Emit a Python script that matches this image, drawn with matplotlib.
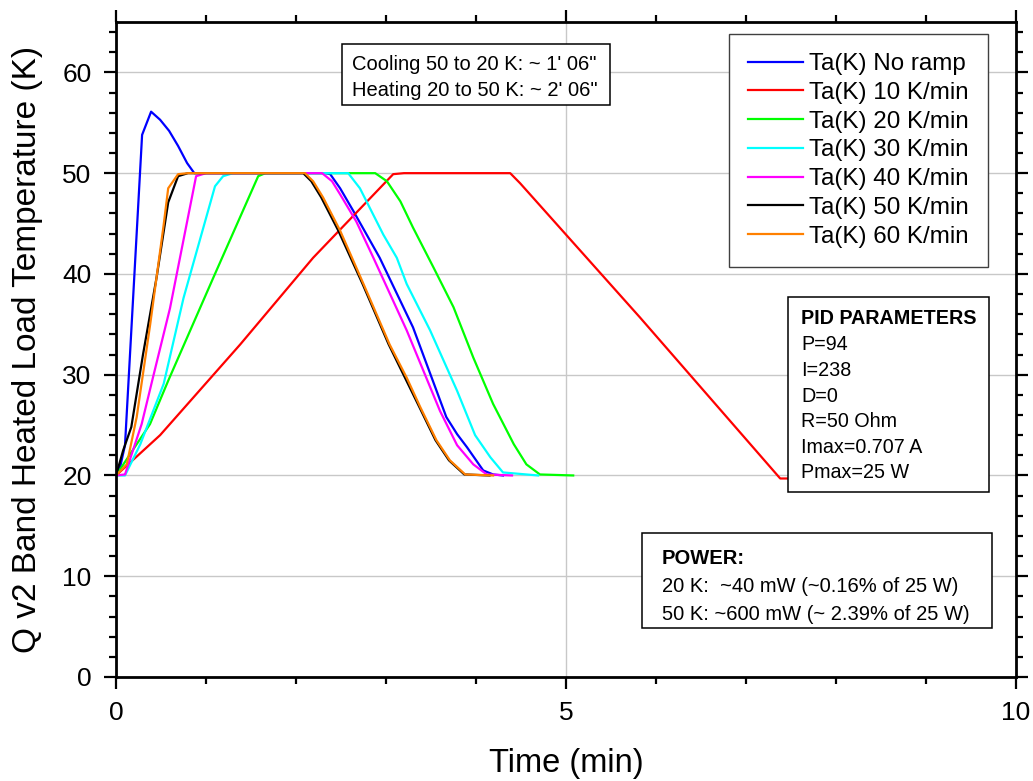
import matplotlib
matplotlib.use("Agg")
import matplotlib.pyplot as plt
from matplotlib.ticker import MultipleLocator
from matplotlib.patches import Rectangle

plt.rcParams['font.family'] = ['Liberation Sans', 'DejaVu Sans']

# ---- data (time in min, temperature in K) ----
t_noramp = [0, 0.05, 0.1, 0.29, 0.39, 0.49, 0.59, 0.69, 0.79, 0.87, 1.0, 2.33, 2.38, 2.49, 2.64, 2.93, 3.30, 3.67, 3.79, 3.90, 4.08, 4.19, 4.30]
T_noramp = [20, 21.0, 23.0, 53.8, 56.1, 55.3, 54.2, 52.7, 51.0, 50.0, 50.0, 50.0, 49.9, 48.5, 46.2, 41.6, 34.7, 25.8, 24.1, 22.8, 20.5, 20.1, 20.0]

t_10 = [0, 0.49, 1.38, 2.19, 3.08, 3.2, 4.38, 4.49, 4.60, 5.82, 7.38, 7.60]
T_10 = [20, 24.0, 33.0, 41.6, 49.9, 50.0, 50.0, 49.0, 47.9, 35.7, 19.7, 19.7]

t_20 = [0, 0.156, 0.378, 0.58, 1.08, 1.58, 1.66, 2.88, 3.01, 3.16, 3.30, 3.53, 3.75, 3.97, 4.19, 4.42, 4.56, 4.71, 5.08]
T_20 = [20, 22.1, 25.1, 29.4, 39.6, 49.7, 50.0, 50.0, 49.2, 47.2, 44.6, 40.6, 36.7, 31.7, 27.1, 23.1, 21.1, 20.1, 20.0]

t_30 = [0, 0.1, 0.27, 0.53, 0.75, 1.10, 1.19, 1.30, 2.58, 2.71, 2.97, 3.12, 3.23, 3.49, 3.79, 3.99, 4.16, 4.30, 4.69]
T_30 = [20, 20.0, 23.1, 29.1, 37.6, 48.7, 49.7, 50.0, 50.0, 48.5, 43.9, 41.6, 39.0, 34.4, 28.4, 24.0, 21.8, 20.3, 20.0]

t_40 = [0, 0.1, 0.285, 0.41, 0.60, 0.89, 1.0, 2.29, 2.40, 2.49, 2.67, 2.86, 3.23, 3.60, 3.79, 3.97, 4.12, 4.40]
T_40 = [20, 20.1, 25.1, 29.7, 36.6, 49.7, 50.0, 50.0, 49.2, 47.9, 45.2, 41.6, 34.4, 26.4, 23.0, 21.1, 20.1, 20.0]

t_50 = [0, 0.08, 0.17, 0.30, 0.45, 0.58, 0.69, 0.80, 2.08, 2.17, 2.28, 2.47, 2.74, 3.03, 3.37, 3.55, 3.70, 3.87, 4.15]
T_50 = [20, 22.5, 24.8, 32.0, 39.6, 47.1, 49.7, 50.0, 50.0, 49.2, 47.6, 44.3, 39.0, 33.0, 26.8, 23.5, 21.5, 20.1, 20.0]

t_60 = [0, 0.12, 0.23, 0.38, 0.53, 0.58, 0.69, 0.80, 2.10, 2.19, 2.30, 2.49, 2.75, 3.04, 3.23, 3.38, 3.56, 3.71, 3.88, 4.19]
T_60 = [20, 21.1, 25.8, 35.0, 44.9, 48.5, 49.9, 50.0, 50.0, 49.2, 47.6, 44.3, 39.0, 33.0, 29.7, 26.8, 23.5, 21.5, 20.1, 20.0]

labels = ["Ta(K) No ramp", "Ta(K) 10 K/min", "Ta(K) 20 K/min", "Ta(K) 30 K/min",
          "Ta(K) 40 K/min", "Ta(K) 50 K/min", "Ta(K) 60 K/min"]
colors = ["#0000FF", "#FF0000", "#00FF00", "#00FFFF", "#FF00FF", "#000000", "#FF8000"]
series = [(t_noramp, T_noramp), (t_10, T_10), (t_20, T_20), (t_30, T_30),
          (t_40, T_40), (t_50, T_50), (t_60, T_60)]

xticks = [0, 5, 10]
yticks = [0, 10, 20, 30, 40, 50, 60]

note_lines = ["Cooling 50 to 20 K: ~ 1' 06\"", "Heating 20 to 50 K: ~ 2' 06\""]
pid_lines = ["PID PARAMETERS", "P=94", "I=238", "D=0", "R=50 Ohm", "Imax=0.707 A", "Pmax=25 W"]
power_lines = ["POWER:", "20 K:  ~40 mW (~0.16% of 25 W)", "50 K: ~600 mW (~ 2.39% of 25 W)"]

W, H = 1033, 781
fig = plt.figure(figsize=(W / 100, H / 100), dpi=100)
ax = fig.add_axes([116 / W, 104 / H, 900 / W, 655 / H])

for (t, T), c, lab in zip(series, colors, labels):
    ax.plot(t, T, color=c, lw=1.6, label=lab)

ax.set_xlim(0, 10)
ax.set_ylim(0, 65)
ax.set_xticks(xticks)
ax.set_yticks(yticks)
ax.xaxis.set_minor_locator(MultipleLocator(1))
ax.yaxis.set_minor_locator(MultipleLocator(2))
ax.grid(True, which='major', color='#c8c8c8', lw=1.0)
ax.set_axisbelow(True)
for s in ax.spines.values():
    s.set_linewidth(2.0)
ax.tick_params(which='both', direction='out', top=True, right=True, width=1.6,
               labelsize=19, pad=9)
ax.tick_params(which='major', length=8.5)
ax.tick_params(which='minor', length=4.8)

ax.set_xlabel("Time (min)", fontsize=23.5, labelpad=16)
ax.set_ylabel("Q v2 Band Heated Load Temperature (K)", fontsize=24, labelpad=14)

leg = ax.legend(loc='upper right', bbox_to_anchor=(0.969, 0.982), fontsize=17.4,
                frameon=True, fancybox=False, edgecolor='#404040', framealpha=1,
                handlelength=2.25, handletextpad=0.26, labelspacing=0.28,
                borderpad=0.8, borderaxespad=0)
leg.get_frame().set_linewidth(1.0)


def px(x, y):
    return x / W, 1 - y / H


def draw_box(x0, y0, x1, y1, tx, baselines, lines, fs, bold_first=False):
    fx0, fy1 = px(x0, y1)
    fx1, fy0 = px(x1, y0)
    ax.add_patch(Rectangle((fx0, fy1), fx1 - fx0, fy0 - fy1, transform=fig.transFigure,
                           facecolor='white', edgecolor='black', lw=1.1, zorder=5))
    for i, (line, by) in enumerate(zip(lines, baselines)):
        fx, fy = px(tx, by)
        ax.text(fx, fy, line, transform=fig.transFigure, fontsize=fs, ha='left',
                va='baseline', zorder=6,
                fontweight='bold' if (bold_first and i == 0) else 'normal')


draw_box(342, 44, 610, 105, 352, [69.5, 96.5], note_lines, 14.5)
draw_box(788, 297, 989, 492, 801, [324.5, 350, 376, 401.5, 427, 453, 478.5], pid_lines, 14.2,
         bold_first=True)
draw_box(642, 533, 992, 628, 662, [564.5, 592.5, 620], power_lines, 14.5, bold_first=True)

fig.savefig("out.png", dpi=100)
